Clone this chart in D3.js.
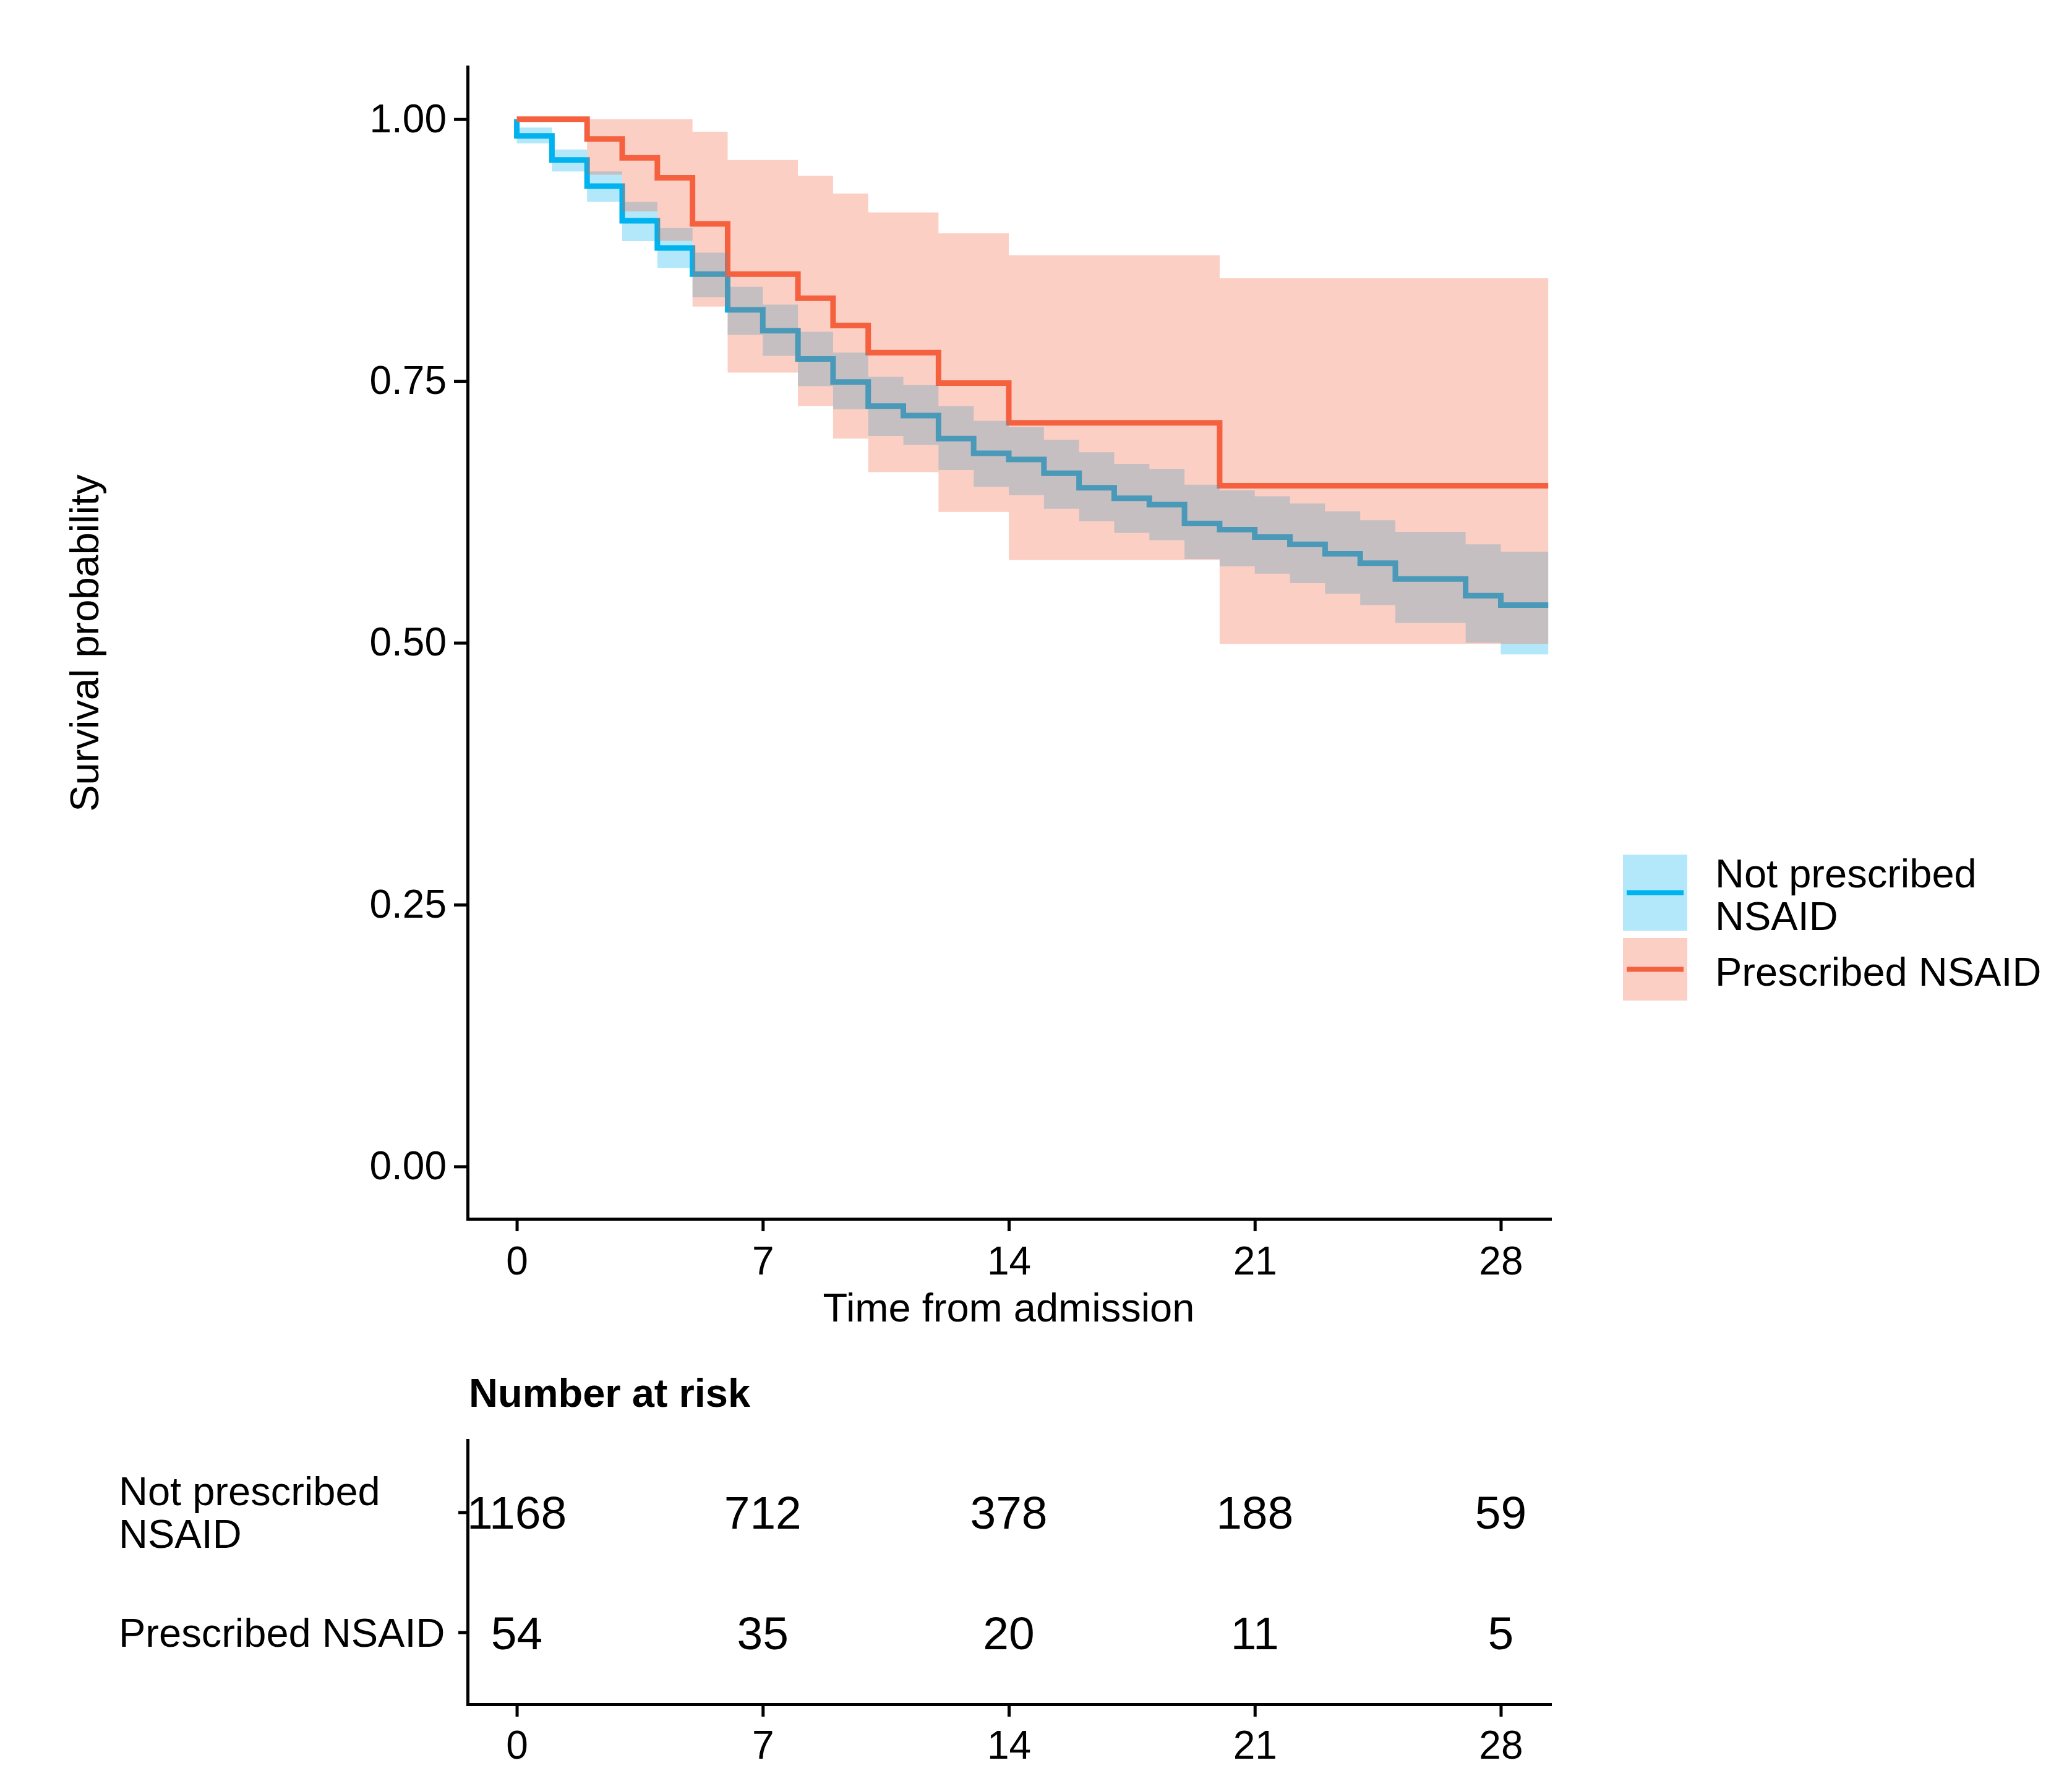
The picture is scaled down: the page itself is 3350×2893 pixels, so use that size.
<!DOCTYPE html>
<html>
<head>
<meta charset="utf-8">
<script src="https://d3js.org/d3.v7.min.js"></script>
<style>
  body { margin: 0; background: #fff; }
</style>
</head>
<body>
<div id="km"></div>
<script>
// group names
var groups = ["Not prescribed NSAID", "Prescribed NSAID"];

// survival steps, not prescribed NSAID
var timeNot  = [0, 0, 1, 2, 3, 4, 5, 6, 7, 8, 9, 10, 11, 12, 13, 14, 15, 16, 17, 18, 19, 20, 21, 22, 23, 24, 25, 27, 28, 29.35];
var survNot  = [1, .984, .961, .936, .903, .877, .852, .818, .798, .771, .749, .726, .717, .695, .681, .675, .662, .648, .638, .632, .614, .608, .601, .594, .585, .576, .561, .545, .536, .536];
var upperNot = [1, .992, .971, .950, .921, .896, .8725, .840, .823, .797, .777, .754, .746, .726, .712, .706, .694, .682, .671, .666, .651, .6455, .640, .633, .6255, .617, .606, .594, .587, .587];
var lowerNot = [1, .977, .950, .921, .8835, .858, .830, .794, .774, .745, .723, .6975, .689, .665, .649, .641, .628, .616, .605, .598, .580, .573, .566, .557, .547, .536, .519, .500, .489, .489];

// survival steps, prescribed NSAID
var timePres  = [0, 2, 3, 4, 5, 6, 8, 9, 10, 12, 14, 20, 29.35];
var survPres  = [1, .981, .963, .944, .900, .852, .829, .803, .777, .748, .710, .650, .650];
var upperPres = [1, 1, 1, 1, .988, .961, .946, .929, .911, .891, .870, .848, .848];
var lowerPres = [1, .947, .912, .884, .821, .758, .726, .695, .663, .625, .579, .499, .499];

// number at risk table
var riskTimes = [0, 7, 14, 21, 28];
var riskNot  = [1168, 712, 378, 188, 59];
var riskPres = [54, 35, 20, 11, 5];

// tick values
var xTicks = [0, 7, 14, 21, 28];
var yTicks = [0, 0.25, 0.5, 0.75, 1];

var colors = ["#00B2EE", "#F5603F"];
var font = "'Liberation Sans', Arial, sans-serif";

// build series objects from the arrays
function makeSeries(t, s, up, lo) {
  return t.map(function(d, i) { return { t: d, s: s[i], up: up[i], lo: lo[i] }; });
}
var series = [
  makeSeries(timeNot, survNot, upperNot, lowerNot),
  makeSeries(timePres, survPres, upperPres, lowerPres)
];
var risks = [riskNot, riskPres];

var svg = d3.select("#km")
  .append("svg")
    .attr("width", 3350)
    .attr("height", 2893)
    .style("font-family", font);

// scales
var x = d3.scaleLinear().domain([-1.4, 29.4]).range([756, 2506]);
var y = d3.scaleLinear().domain([-0.05, 1.05]).range([1971, 108]);

// style an axis group the ggplot classic way
function styleAxis(g, size) {
  g.attr("font-family", font).attr("font-size", size);
  g.select(".domain").attr("stroke", "#000").attr("stroke-width", 5).attr("stroke-linecap", "square");
  g.selectAll(".tick line").attr("stroke", "#000").attr("stroke-width", 5);
  g.selectAll(".tick text").attr("fill", "#000");
}

// curves first, ribbons on top with alpha (like ggsurvplot)
series.forEach(function(d, i) {
  svg.append("path")
    .datum(d)
    .attr("fill", "none")
    .attr("stroke", colors[i])
    .attr("stroke-width", 9)
    .attr("d", d3.line()
      .curve(d3.curveStepAfter)
      .x(function(p) { return x(p.t); })
      .y(function(p) { return y(p.s); }));
});

series.forEach(function(d, i) {
  svg.append("path")
    .datum(d)
    .attr("fill", colors[i])
    .attr("fill-opacity", 0.3)
    .attr("d", d3.area()
      .curve(d3.curveStepAfter)
      .x(function(p) { return x(p.t); })
      .y0(function(p) { return y(p.lo); })
      .y1(function(p) { return y(p.up); }));
});

// Y axis
svg.append("g")
  .attr("transform", "translate(756,0)")
  .call(d3.axisLeft(y).tickValues(yTicks).tickFormat(d3.format(".2f"))
    .tickSize(22).tickSizeOuter(0).tickPadding(12))
  .call(styleAxis, 64);

// X axis
svg.append("g")
  .attr("transform", "translate(0,1971)")
  .call(d3.axisBottom(x).tickValues(xTicks)
    .tickSize(20).tickSizeOuter(0).tickPadding(25))
  .call(styleAxis, 64);

// axis titles
svg.append("text")
  .attr("transform", "translate(159,1040) rotate(-90)")
  .attr("text-anchor", "middle")
  .attr("font-size", 65)
  .text("Survival probability");

svg.append("text")
  .attr("x", 1631)
  .attr("y", 2137)
  .attr("text-anchor", "middle")
  .attr("font-size", 65)
  .text("Time from admission");

// legend
var keyTop = [1382, 1517], keyH = [123, 101];
groups.forEach(function(g, i) {
  svg.append("rect")
    .attr("x", 2624).attr("y", keyTop[i])
    .attr("width", 104).attr("height", keyH[i])
    .attr("fill", colors[i]).attr("fill-opacity", 0.3);
  svg.append("line")
    .attr("x1", 2630).attr("x2", 2722)
    .attr("y1", keyTop[i] + keyH[i] / 2).attr("y2", keyTop[i] + keyH[i] / 2)
    .attr("stroke", colors[i]).attr("stroke-width", 8);
});
var legLines = [["Not prescribed", "NSAID"], ["Prescribed NSAID"]];
var legBase = [[1435, 1504], [1594]];
legLines.forEach(function(lines, i) {
  lines.forEach(function(l, j) {
    svg.append("text")
      .attr("x", 2773).attr("y", legBase[i][j])
      .attr("font-size", 65)
      .text(l);
  });
});

// ---- risk table ----
svg.append("text")
  .attr("x", 758)
  .attr("y", 2275)
  .attr("font-size", 65)
  .attr("font-weight", "bold")
  .text("Number at risk");

var row = d3.scalePoint().domain(groups).range([2329, 2756]).padding(0.6);

svg.append("g")
  .attr("transform", "translate(756,0)")
  .call(d3.axisLeft(row).tickFormat(function() { return ""; })
    .tickSize(15).tickSizeOuter(0))
  .call(styleAxis, 64);

svg.append("g")
  .attr("transform", "translate(0,2756)")
  .call(d3.axisBottom(x).tickValues(xTicks)
    .tickSize(20).tickSizeOuter(0).tickPadding(23))
  .call(styleAxis, 64);

// row labels (left aligned)
var rowLabels = [["Not prescribed", "NSAID"], ["Prescribed NSAID"]];
rowLabels.forEach(function(lines, i) {
  var cy = row(groups[i]);
  var first = cy + 23 - (lines.length - 1) * 69 / 2;
  lines.forEach(function(l, j) {
    svg.append("text")
      .attr("x", 192).attr("y", first + j * 69)
      .attr("font-size", 65)
      .text(l);
  });
});

// numbers at risk
groups.forEach(function(g, i) {
  svg.append("g")
    .selectAll("text")
    .data(riskTimes)
    .enter()
    .append("text")
      .attr("x", function(t) { return x(t); })
      .attr("y", row(g) + 27)
      .attr("text-anchor", "middle")
      .attr("font-size", 75)
      .text(function(t, k) { return risks[i][k]; });
});
</script>
</body>
</html>
